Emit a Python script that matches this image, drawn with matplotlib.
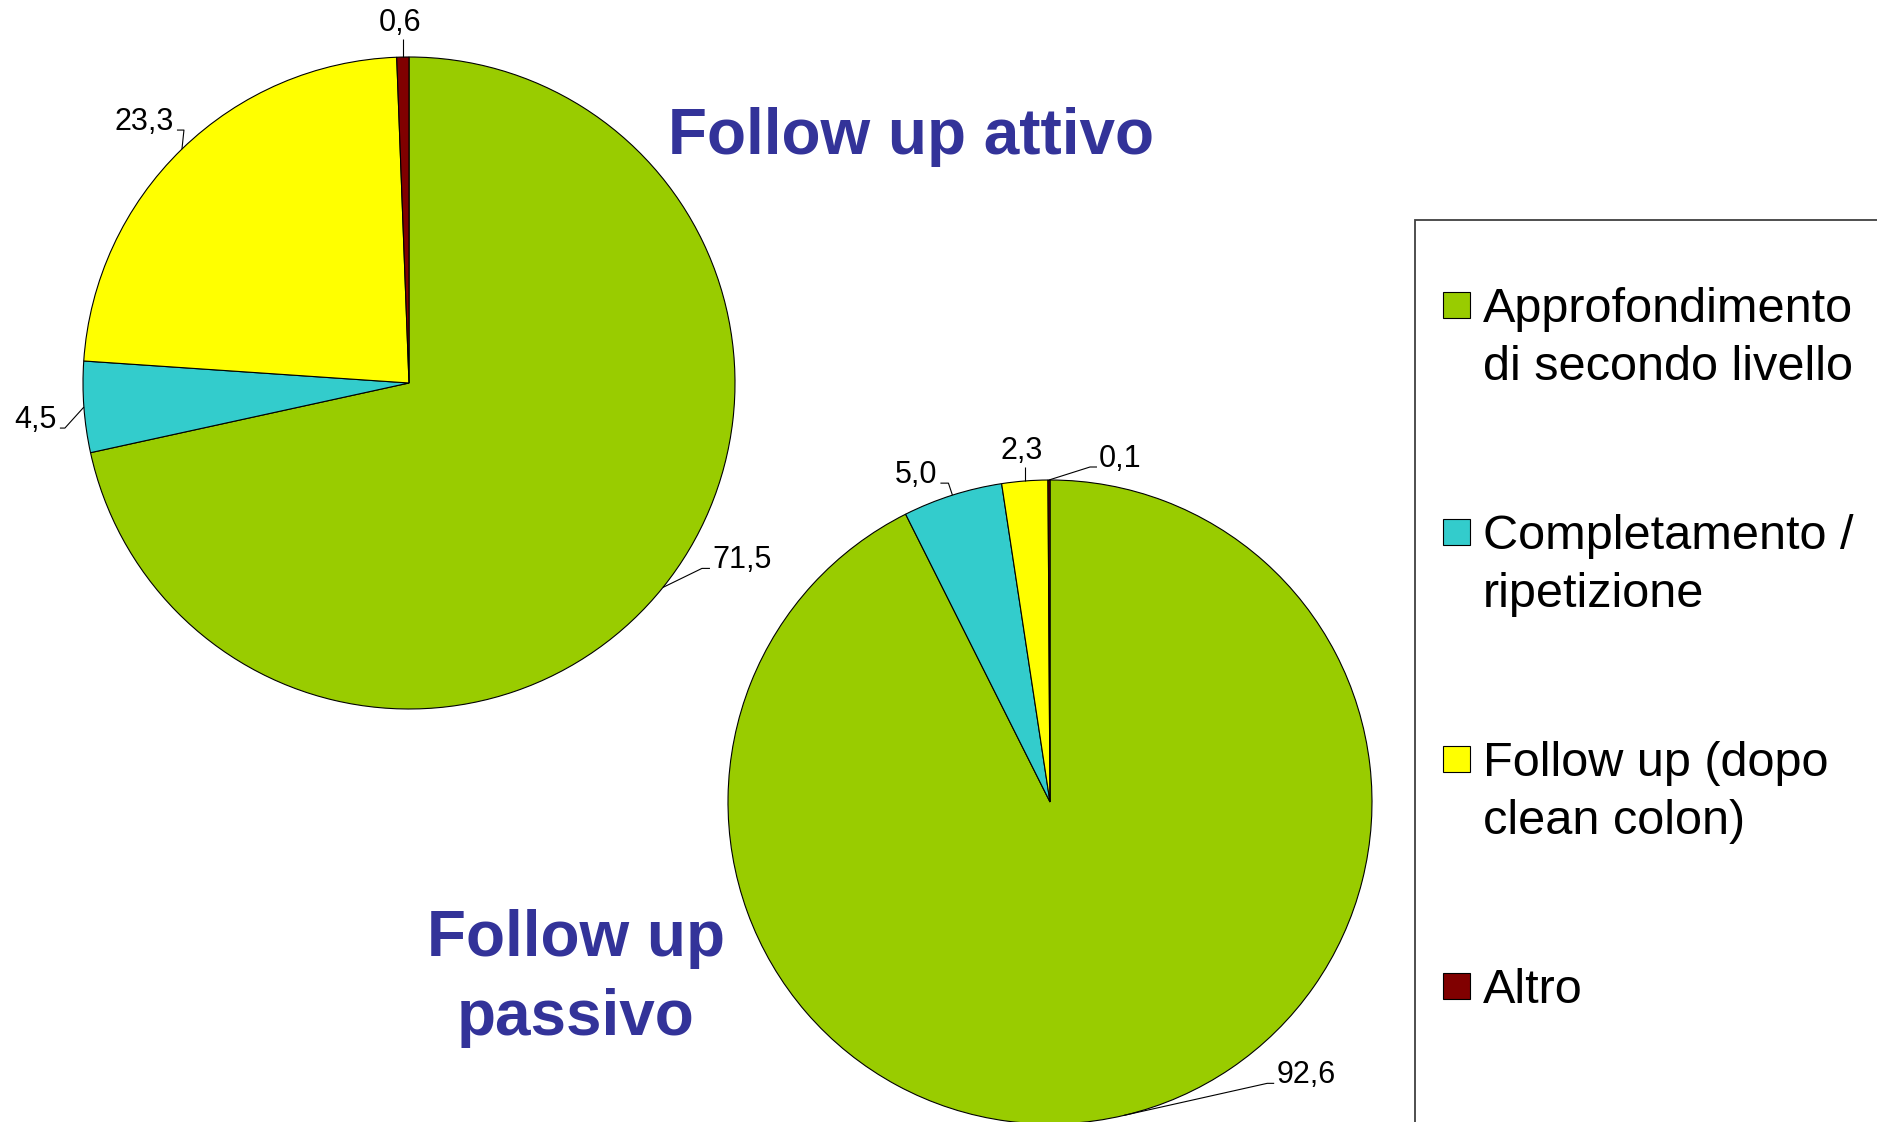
import numpy as np
import matplotlib
matplotlib.use('Agg')
import matplotlib.pyplot as plt
from matplotlib.patches import Rectangle

# ---------------- data ----------------
categories = ['Approfondimento\ndi secondo livello',
              'Completamento /\nripetizione',
              'Follow up (dopo\nclean colon)',
              'Altro']
attivo_values = [71.5, 4.5, 23.3, 0.6]
passivo_values = [92.6, 5.0, 2.3, 0.1]
attivo_labels = ['71,5', '4,5', '23,3', '0,6']
passivo_labels = ['92,6', '5,0', '2,3', '0,1']
title_attivo = 'Follow up attivo'
title_passivo = 'Follow up\npassivo'

# ---------------- style ----------------
colors = ['#99CC00', '#33CCCC', '#FFFF00', '#800000']
title_color = '#333399'
FONT = ['Liberation Sans', 'DejaVu Sans']

W, H, DPI = 1877, 1122, 100
fig = plt.figure(figsize=(W / DPI, H / DPI), dpi=DPI)
fig.patch.set_facecolor('white')


def fx(px):
    return px / W


def fy(py):
    return 1 - py / H


# leader geometry per label: (elbow dx px, elbow dy px (up), stub px)
attivo_leaders = [(39, 19, 8), (-19, -21, -5), (2, 19, -7), (0, 18, 0)]
passivo_leaders = [(143, 32, 7), (-4, 12, -8), (0, 14, 0), (41, 13, 7)]


def draw_pie(values, labels, leaders, cx, cy, r):
    pad = 1.15
    half = r * pad
    ax = fig.add_axes([fx(cx - half), fy(cy + half), 2 * half / W, 2 * half / H])
    wedges, _ = ax.pie(values, colors=colors, startangle=90, counterclock=False,
                       radius=1.0,
                       wedgeprops=dict(edgecolor='black', linewidth=0.8))
    for w in wedges:
        w.set_clip_on(False)
    ax.set_xlim(-pad, pad)
    ax.set_ylim(-pad, pad)
    ax.set_aspect('auto')
    ax.axis('off')
    s = 1.0 / r  # data units per pixel
    for w, lab, (dx, dy, stub) in zip(wedges, labels, leaders):
        mid = np.deg2rad((w.theta1 + w.theta2) / 2)
        ex, ey = np.cos(mid), np.sin(mid)
        bx, by = ex + dx * s, ey + dy * s
        sx = bx + stub * s
        ax.plot([ex, bx, sx], [ey, by, by], color='black', lw=0.8,
                clip_on=False, solid_capstyle='butt')
        if stub > 0:
            ax.text(sx + 2 * s, by, lab, ha='left', va='baseline',
                    fontsize=22, family=FONT)
        elif stub < 0:
            ax.text(sx - 3 * s, by, lab, ha='right', va='baseline',
                    fontsize=22, family=FONT)
        else:
            ax.text(bx - 3 * s, by + 8 * s, lab, ha='center', va='baseline',
                    fontsize=22, family=FONT)
    return ax


draw_pie(attivo_values, attivo_labels, attivo_leaders, 409, 383, 326)
draw_pie(passivo_values, passivo_labels, passivo_leaders, 1050, 802, 322)

# ---------------- titles ----------------
fig.text(fx(911), fy(154), title_attivo, ha='center', va='baseline',
         fontsize=46, fontweight='bold', color=title_color, family=FONT)
for j, line in enumerate(title_passivo.split('\n')):
    fig.text(fx(576), fy(956 + j * 79), line, ha='center', va='baseline',
             fontsize=46, fontweight='bold', color=title_color, family=FONT)

# ---------------- legend ----------------
box = Rectangle((fx(1415), fy(1140)), fx(1900) - fx(1415), fy(220) - fy(1140),
                transform=fig.transFigure, fill=False, edgecolor='#404040',
                linewidth=1.3, clip_on=False)
fig.add_artist(box)
for i, (cat, col) in enumerate(zip(categories, colors)):
    base = 322 + i * 227
    mk = Rectangle((fx(1443), fy(base - 4)), 27 / W, 26 / H,
                   transform=fig.transFigure, facecolor=col,
                   edgecolor='black', linewidth=0.8)
    fig.add_artist(mk)
    for j, line in enumerate(cat.split('\n')):
        fig.text(fx(1483), fy(base + j * 58), line, ha='left', va='baseline',
                 fontsize=35, family=FONT)

fig.savefig('out.png', dpi=DPI, facecolor='white')
